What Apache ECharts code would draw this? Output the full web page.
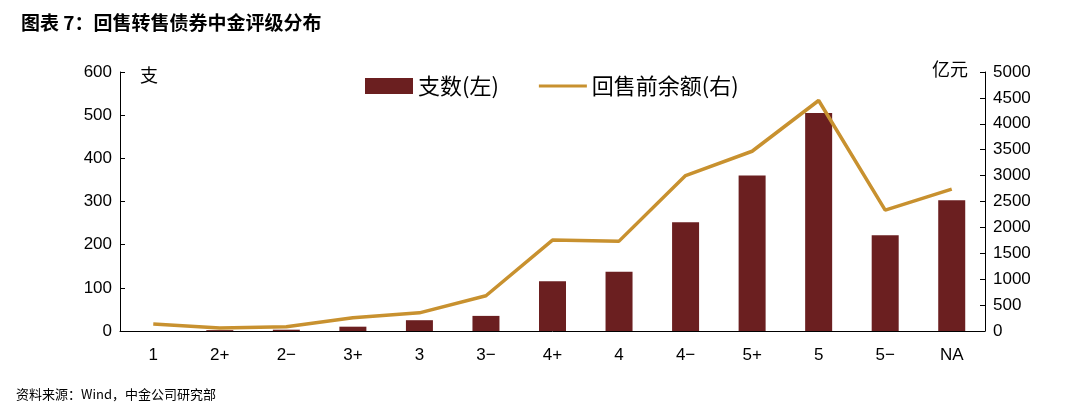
<!DOCTYPE html>
<html>
<head>
<meta charset="utf-8">
<script src="https://cdn.jsdelivr.net/npm/echarts@6/dist/echarts.min.js"></script>
<style>
  body { margin: 0; background: #fff; }
  #chart { width: 1080px; height: 419px; }
</style>
</head>
<body>
<div id="chart"></div>
<script>
const categories = ['1', '2+', '2−', '3+', '3', '3−', '4+', '4', '4−', '5+', '5', '5−', 'NA']
const counts = [0, 2, 3, 10, 25, 35, 115, 137, 252, 360, 505, 222, 303]
const balances = [135, 60, 80, 255, 350, 680, 1755, 1735, 3000, 3470, 4450, 2335, 2740]

const chart = echarts.init(document.getElementById('chart'))
const font = '"Noto Sans CJK SC", sans-serif'
const numFont = '"Liberation Sans", Arial, sans-serif'
chart.setOption({
  animation: false,
  textStyle: { fontFamily: font },
  title: {
    text: '图表 7：回售转售债券中金评级分布',
    left: 16, top: 8,
    textStyle: { fontSize: 19, fontWeight: 'bold', color: '#000', fontFamily: font }
  },
  graphic: [
    { type: 'text', left: 16, top: 388, style: { text: '资料来源：Wind，中金公司研究部', fill: '#000', font: '13px ' + font } },
    { type: 'text', left: 140, top: 66, style: { text: '支', fill: '#000', font: '18px ' + font } },
    { type: 'text', left: 932, top: 60, style: { text: '亿元', fill: '#000', font: '18px ' + font } }
  ],
  legend: {
    top: 70, left: 360, itemGap: 40, itemWidth: 48, itemHeight: 16,
    textStyle: { fontSize: 22, color: '#000', fontFamily: font },
    data: [
      { name: '支数(左)', icon: 'rect' },
      { name: '回售前余额(右)', icon: 'path://M0,6.5L48,6.5L48,9.5L0,9.5Z', itemStyle: { color: '#C8912F' } }
    ]
  },
  grid: { left: 120, right: 95, top: 72, bottom: 88 },
  xAxis: {
    type: 'category', data: categories,
    axisLine: { lineStyle: { color: '#000' } },
    axisTick: { show: false },
    axisLabel: { color: '#000', fontSize: 17, margin: 16, fontFamily: numFont }
  },
  yAxis: [
    {
      type: 'value', min: 0, max: 600, interval: 100,
      axisLine: { show: true, lineStyle: { color: '#000' } },
      axisTick: { show: true, inside: true, lineStyle: { color: '#000' } },
      axisLabel: { color: '#000', fontSize: 17, fontFamily: numFont },
      splitLine: { show: false }
    },
    {
      type: 'value', min: 0, max: 5000, interval: 500,
      axisLine: { show: true, lineStyle: { color: '#000' } },
      axisTick: { show: true, inside: true, lineStyle: { color: '#000' } },
      axisLabel: { color: '#000', fontSize: 17, fontFamily: numFont, formatter: (v) => String(v) },
      splitLine: { show: false }
    }
  ],
  series: [
    { name: '支数(左)', type: 'bar', data: counts, barWidth: 27, itemStyle: { color: '#6B1F20' } },
    {
      name: '回售前余额(右)', type: 'line', yAxisIndex: 1, data: balances,
      symbol: 'none', lineStyle: { color: '#C8912F', width: 3.5 }, itemStyle: { color: '#C8912F' }
    }
  ]
})
</script>
</body>
</html>
